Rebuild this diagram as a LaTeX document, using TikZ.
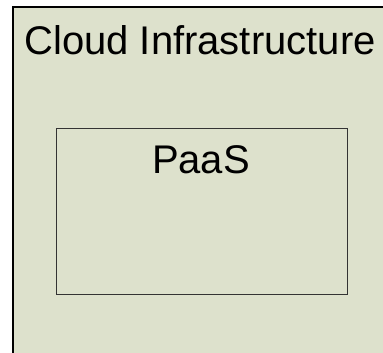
\documentclass[tikz,border=0pt]{standalone}
\usepackage{fontspec}
\setmainfont{Liberation Sans}
\usetikzlibrary{positioning}
\definecolor{layerfill}{HTML}{DDE1CC}

\begin{document}
\begin{tikzpicture}[
      x=1pt, y=-1pt,
      layer/.style={
        fill=layerfill,
        draw=none
      },
      service/.style={
        draw=black!80,
        fill=layerfill,
        line width=1pt
      },
      title/.style={
        font=\fontsize{40}{44}\selectfont,
        anchor=base,
        inner sep=0pt
      }
    ]
    \useasboundingbox (0,0) rectangle (383,353);
    \fill[white] (0,0) rectangle (383,353);

    % outer layer, open to the right and bottom
    \node[layer,anchor=north west,minimum width=380pt,minimum height=350pt] (infra) at (13,7) {};
    \draw[line width=1.2pt] (infra.south west) -- (infra.north west) -- (infra.north east);
    \node[title] (infratitle) at (200,55) {Cloud Infrastructure};

    % platform box
    \node[service,anchor=north west,minimum width=291pt,minimum height=166pt] (paas) at (56,128) {};
    \node[title] (paastitle) at (201,173) {PaaS};

  \end{tikzpicture}
\end{document}
